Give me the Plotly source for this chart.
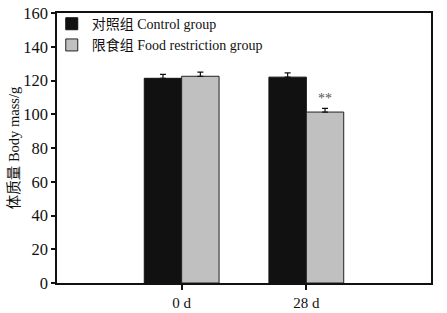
import plotly.graph_objects as go

categories = ["0 d", "28 d"]
control_vals = [121.3, 122.0]
control_err = [2.3, 2.5]
fr_vals = [122.5, 101.3]
fr_err = [2.5, 2.2]
y_ticks = [0, 20, 40, 60, 80, 100, 120, 140, 160]

FONT = "Liberation Serif, Times New Roman, Noto Sans CJK SC, serif"

fig = go.Figure()
fig.add_trace(go.Bar(
    name="对照组 Control group", x=categories, y=control_vals,
    marker=dict(color="#111111", line=dict(color="#111111", width=1)),
    error_y=dict(type="data", array=control_err, arrayminus=[0, 0], symmetric=False,
                 color="#111111", thickness=1.2, width=3),
))
fig.add_trace(go.Bar(
    name="限食组 Food restriction group", x=categories, y=fr_vals,
    marker=dict(color="#c0c0c0", line=dict(color="#222222", width=1)),
    error_y=dict(type="data", array=fr_err, arrayminus=[0, 0], symmetric=False,
                 color="#111111", thickness=1.2, width=3),
))

fig.add_annotation(x=1, xshift=18.5, y=fr_vals[1] + fr_err[1], yanchor="bottom",
                   text="**", showarrow=False,
                   font=dict(family=FONT, size=14, color="#555555"))

fig.update_layout(
    width=447, height=313,
    margin=dict(l=57, r=16, t=13, b=30, autoexpand=False),
    paper_bgcolor="white", plot_bgcolor="white",
    barmode="group", bargap=0.4, bargroupgap=0,
    font=dict(family=FONT, size=14, color="#111111"),
    legend=dict(x=-0.014, y=1.018, xanchor="left", yanchor="top",
                bgcolor="rgba(0,0,0,0)", font=dict(size=14),
                itemwidth=30, tracegroupgap=0),
    showlegend=True,
)
fig.update_xaxes(
    range=[-1, 2], showline=True, linecolor="#111111", linewidth=1.5, mirror=True,
    ticks="outside", ticklen=5, tickcolor="#111111", tickwidth=1.5,
    showgrid=False, tickfont=dict(size=15), automargin=False,
)
fig.update_yaxes(
    range=[0, 160], tickvals=y_ticks, showline=True, linecolor="#111111", linewidth=1.5,
    mirror=True, ticks="outside", ticklen=4, tickcolor="#111111", tickwidth=1.5,
    showgrid=False, zeroline=False, tickfont=dict(size=16.5), automargin=False,
    title=dict(text="体质量 Body mass/g", font=dict(size=14.5), standoff=0),
)

fig.write_html("out.html", config={"displayModeBar": False},
               post_script="document.body.style.margin='0';document.body.style.overflow='hidden';")
